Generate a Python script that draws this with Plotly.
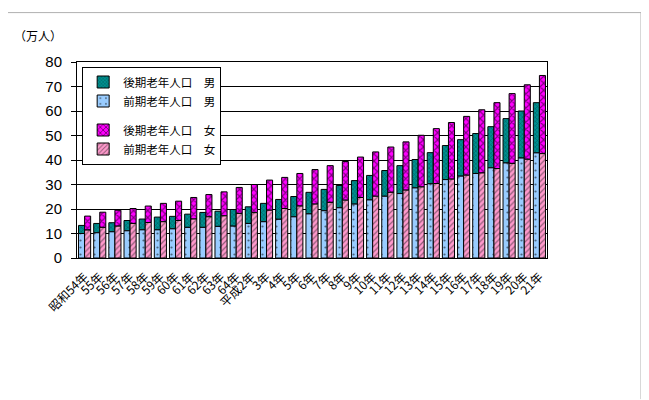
import plotly.graph_objects as go

years = ["昭和54年", "55年", "56年", "57年", "58年", "59年", "60年", "61年", "62年", "63年",
         "64年", "平成2年", "3年", "4年", "5年", "6年", "7年", "8年", "9年", "10年",
         "11年", "12年", "13年", "14年", "15年", "16年", "17年", "18年", "19年", "20年", "21年"]

male_early = [10.0, 10.3, 10.7, 11.1, 11.5, 11.5, 11.9, 12.5, 12.5, 12.9, 13.0, 14.1, 14.8, 15.8, 16.8, 18.0,
              19.3, 20.5, 22.0, 23.7, 25.2, 26.3, 28.6, 30.3, 32.0, 33.4, 34.5, 36.8, 38.8, 40.8, 42.9]
male_late = [3.3, 3.8, 3.7, 4.2, 4.4, 5.2, 5.1, 5.4, 6.1, 6.2, 6.8, 6.8, 7.5, 8.1, 8.3, 8.8,
             8.7, 9.1, 9.6, 10.0, 10.5, 11.4, 11.6, 12.7, 13.9, 14.9, 16.3, 16.8, 18.1, 19.2, 20.5]
female_early = [11.4, 12.5, 13.0, 14.1, 14.5, 14.8, 15.3, 15.9, 16.8, 17.2, 18.2, 18.5, 19.5, 20.2, 21.2, 22.0,
                22.7, 23.6, 24.7, 25.2, 26.8, 27.7, 29.0, 30.4, 32.2, 33.8, 34.7, 36.5, 38.6, 40.3, 42.6]
female_late = [5.7, 6.2, 6.5, 6.1, 6.7, 7.5, 7.9, 8.8, 9.1, 9.8, 10.6, 11.5, 12.3, 12.7, 13.3, 14.1,
               15.0, 15.8, 16.5, 18.1, 18.5, 19.7, 21.1, 22.4, 23.1, 24.0, 25.8, 26.9, 28.5, 30.4, 31.9]

FONT = "Noto Sans CJK JP, Liberation Sans, sans-serif"
outline = dict(color="black", width=1)

fig = go.Figure()
fig.add_bar(x=years, y=male_late, base=male_early, offsetgroup="m", legendgroup="m",
            name="後期老年人口　男",
            marker=dict(color="#008080", line=outline,
                        pattern=dict(shape="x", fgcolor="#004040", bgcolor="#009090",
                                     size=3, solidity=0.4, fillmode="overlay")))
fig.add_bar(x=years, y=male_early, offsetgroup="m", legendgroup="m",
            name="前期老年人口　男",
            marker=dict(color="#99CCFF", line=outline,
                        pattern=dict(shape=".", fgcolor="#000000", bgcolor="#99CCFF",
                                     size=7, solidity=0.08, fillmode="overlay")))
fig.add_bar(x=years, y=female_late, base=female_early, offsetgroup="f", legendgroup="f",
            name="後期老年人口　女",
            marker=dict(color="#FF00FF", line=outline,
                        pattern=dict(shape="x", fgcolor="#000000", bgcolor="#FF00FF",
                                     size=5, solidity=0.4, fillmode="overlay")))
fig.add_bar(x=years, y=female_early, offsetgroup="f", legendgroup="f",
            name="前期老年人口　女",
            marker=dict(color="#FF99CC", line=outline,
                        pattern=dict(shape="/", fgcolor="#222222", bgcolor="#FF99CC",
                                     size=4, solidity=0.3, fillmode="overlay")))

fig.update_layout(
    width=641, height=392,
    margin=dict(l=69, r=102, t=54, b=142, pad=0),
    paper_bgcolor="white", plot_bgcolor="white",
    font=dict(family=FONT, color="black", size=12),
    barmode="group", bargap=0.2, bargroupgap=0,
    showlegend=True,
    legend=dict(x=0.011, y=0.977, xanchor="left", yanchor="top",
                bgcolor="white", bordercolor="black", borderwidth=1,
                font=dict(size=11.5), traceorder="grouped", tracegroupgap=10),
    xaxis=dict(showline=True, linecolor="black", linewidth=1, mirror=True,
               tickangle=-45, tickfont=dict(size=12), showgrid=False,
               ticklabelstandoff=6),
    yaxis=dict(range=[0, 80], dtick=10, showgrid=True, gridcolor="black", gridwidth=1,
               showline=True, linecolor="black", linewidth=1, mirror=True,
               ticks="outside", ticklen=5, tickcolor="black", zeroline=False,
               ticklabelstandoff=6,
               tickfont=dict(size=15, family="Liberation Sans, Arial, sans-serif")),
    annotations=[dict(text="（万人）", xref="paper", yref="paper", x=-0.138, y=1.135,
                      xanchor="left", yanchor="middle", showarrow=False, font=dict(size=12))],
    shapes=[
        dict(type="line", xref="paper", yref="paper", x0=-0.15, x1=1.2, y0=1.252, y1=1.252,
             line=dict(color="#B0B0B0", width=1)),
        dict(type="line", xref="paper", yref="paper", x0=1.2, x1=1.2, y0=1.252, y1=-0.72,
             line=dict(color="#B0B0B0", width=1)),
    ],
)

fig.write_html("out.html")
